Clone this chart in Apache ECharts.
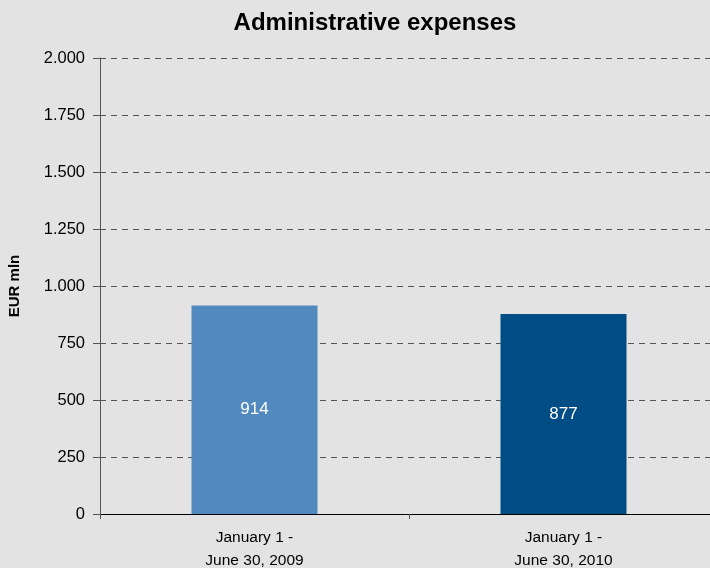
<!DOCTYPE html>
<html>
<head>
<meta charset="utf-8">
<script src="https://cdn.jsdelivr.net/npm/echarts@6/dist/echarts.min.js"></script>
<style>
  html, body { margin: 0; padding: 0; background: #e3e3e3; }
  #container { width: 710px; height: 568px; }
</style>
</head>
<body>
<div id="container"></div>
<script type="text/javascript">
// data
var categories = ['January 1 -\nJune 30, 2009', 'January 1 -\nJune 30, 2010'];
var values = [914, 877];
var barColors = ['#5289be', '#004c85'];

var myChart = echarts.init(document.getElementById('container'));

var option = {
    backgroundColor: '#e3e3e3',
    animation: false,
    title: {
        text: 'Administrative expenses',
        left: 370,
        textAlign: 'center',
        top: 6,
        textStyle: { fontFamily: 'Liberation Sans', fontSize: 24, fontWeight: 'bold', color: '#000' }
    },
    grid: { left: 100, width: 618, top: 58, bottom: 54, outerBoundsMode: 'none', containLabel: false },
    xAxis: {
        type: 'category',
        data: categories,
        axisLine: { lineStyle: { color: '#000', width: 1 } },
        axisTick: { show: true, alignWithLabel: false, length: 5, lineStyle: { color: '#555' } },
        axisLabel: {
            fontFamily: 'Liberation Sans', fontSize: 15.5, color: '#000',
            lineHeight: 23, margin: 12
        }
    },
    yAxis: {
        type: 'value',
        min: 0, max: 2000, interval: 250,
        name: 'EUR mln',
        nameLocation: 'middle',
        nameGap: 78,
        nameTextStyle: { fontFamily: 'Liberation Sans', fontSize: 15, fontWeight: 'bold', color: '#000' },
        axisLine: { show: true, lineStyle: { color: '#555' } },
        axisTick: { show: true, length: 7, lineStyle: { color: '#555' } },
        axisLabel: {
            fontFamily: 'Liberation Sans', fontSize: 16.5, color: '#000', margin: 15,
            formatter: function (v) {
                return String(v).replace(/\B(?=(\d{3})+(?!\d))/g, '.');
            }
        },
        splitLine: { show: true, lineStyle: { color: '#555', type: [6, 5], width: 1 } }
    },
    series: [{
        type: 'bar',
        barWidth: 126,
        data: values.map(function (v, i) {
            return { value: v, itemStyle: { color: barColors[i] } };
        }),
        label: {
            show: true, position: 'inside',
            fontFamily: 'Liberation Sans', fontSize: 17, color: '#fff'
        }
    }]
};

myChart.setOption(option);
</script>
</body>
</html>
